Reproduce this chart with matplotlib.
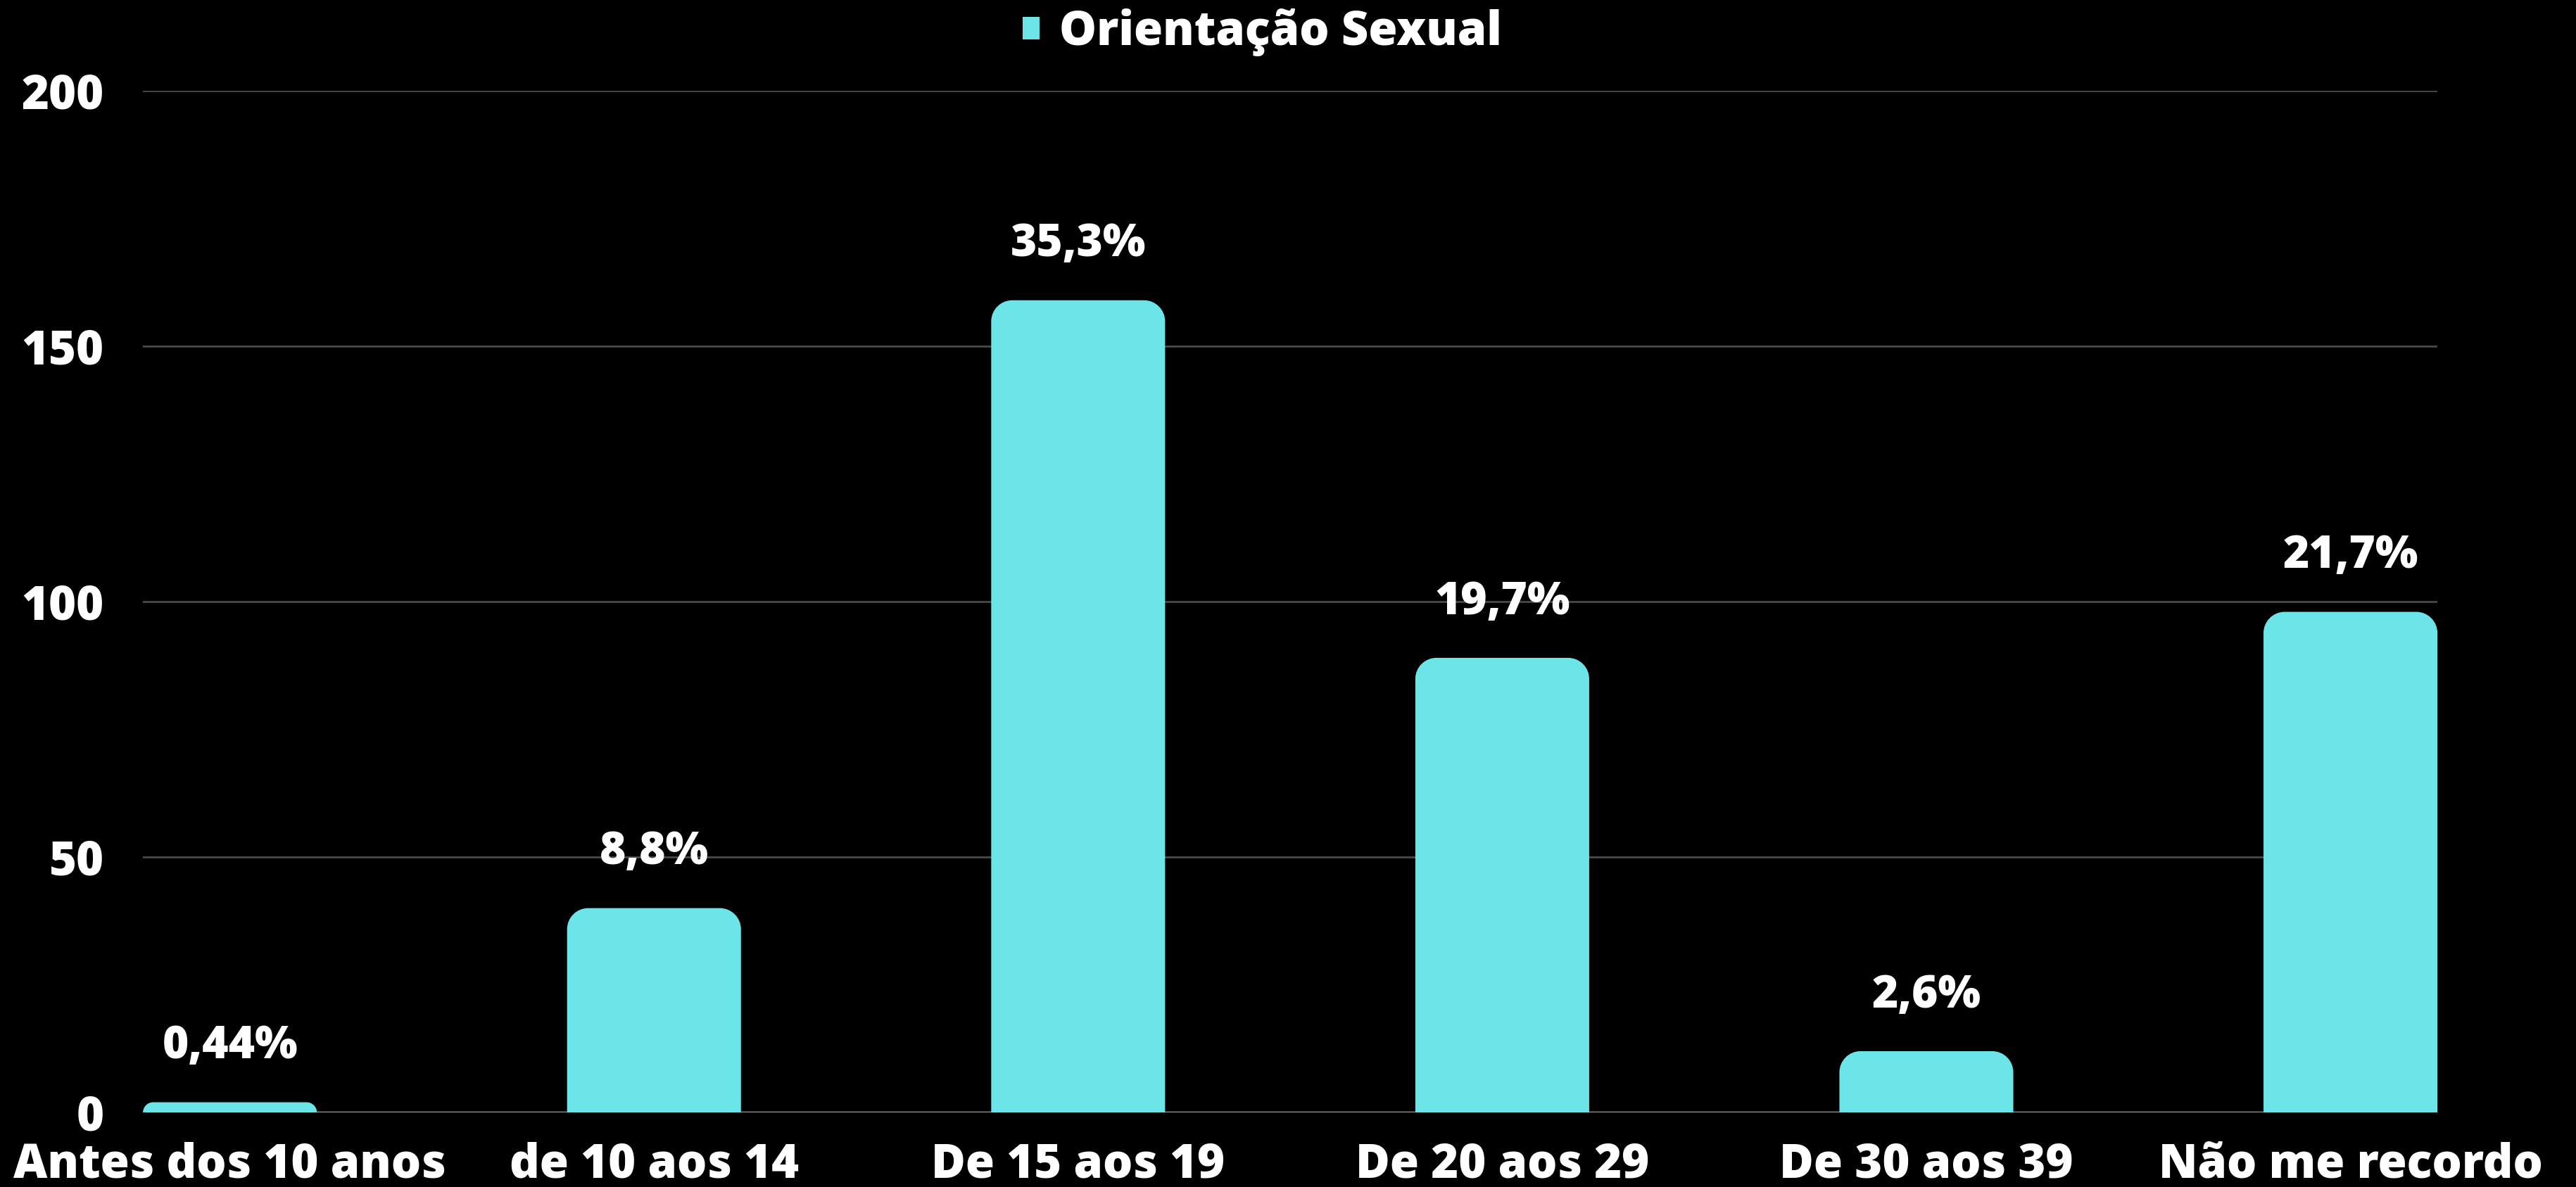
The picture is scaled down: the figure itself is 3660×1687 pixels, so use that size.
import matplotlib.pyplot as plt
from matplotlib.path import Path
from matplotlib.patches import PathPatch, Patch

# data
categories = ['Antes dos 10 anos', 'de 10 aos 14', 'De 15 aos 19',
              'De 20 aos 29', 'De 30 aos 39', 'Não me recordo']
counts     = [2, 40, 159, 89, 12, 98]
pct_labels = ['0,44%', '8,8%', '35,3%', '19,7%', '2,6%', '21,7%']
series     = 'Orientação Sexual'

bar_color  = '#6ce5e8'
wt = 'heavy'
plt.rcParams['font.family'] = ['Open Sans', 'DejaVu Sans']
plt.rcParams['font.weight'] = wt

W, H, DPI = 36.6, 16.87, 100
fig = plt.figure(figsize=(W, H), dpi=DPI, facecolor='black')
ax = fig.add_axes([0.0555, 0.0628, 0.8907, 0.8607], facecolor='black')

width = 0.41
x = range(len(categories))
bars = ax.bar(x, counts, width=width, color=bar_color, zorder=3)
ax.set_xlim(-width / 2, len(categories) - 1 + width / 2)
ax.set_ylim(0, 200)
ax.set_yticks([0, 50, 100, 150, 200])

# rounded top corners (radius in pixels)
fig.canvas.draw()
ax_w = ax.get_window_extent().width
ax_h = ax.get_window_extent().height
xr = ax.get_xlim()[1] - ax.get_xlim()[0]
yr = ax.get_ylim()[1] - ax.get_ylim()[0]
rad_px = 30
k = 0.5523
for b in bars:
    x0, y0 = b.get_x(), b.get_y()
    x1, y1 = x0 + b.get_width(), y0 + b.get_height()
    r = min(rad_px, b.get_height() * ax_h / yr)
    rx = r * xr / ax_w
    ry = r * yr / ax_h
    verts = [(x0, y0), (x0, y1 - ry),
             (x0, y1 - ry + k * ry), (x0 + rx - k * rx, y1), (x0 + rx, y1),
             (x1 - rx, y1),
             (x1 - rx + k * rx, y1), (x1, y1 - ry + k * ry), (x1, y1 - ry),
             (x1, y0), (x0, y0)]
    codes = [Path.MOVETO, Path.LINETO,
             Path.CURVE4, Path.CURVE4, Path.CURVE4,
             Path.LINETO,
             Path.CURVE4, Path.CURVE4, Path.CURVE4,
             Path.LINETO, Path.CLOSEPOLY]
    ax.add_patch(PathPatch(Path(verts, codes), facecolor=bar_color,
                           edgecolor='none', zorder=3))
    b.set_visible(False)

# value labels
for b, lab in zip(bars, pct_labels):
    ax.annotate(lab, (b.get_x() + b.get_width() / 2, b.get_height()),
                xytext=(0, 34), textcoords='offset points',
                ha='center', va='bottom', color='white',
                fontsize=46, fontweight=wt, zorder=4)

ax.grid(axis='y', color='#4a4a4a', linewidth=2, zorder=0)
ax.axhline(0, color='#9a9a9a', linewidth=2.5, zorder=2)
for s in ax.spines.values():
    s.set_visible(False)
ax.tick_params(axis='both', length=0, colors='white', labelsize=48)
ax.tick_params(axis='y', pad=40)
ax.tick_params(axis='x', pad=30)
ax.set_xticks(list(x))
ax.set_xticklabels(categories, fontweight=wt)
for t in ax.get_yticklabels():
    t.set_fontweight(wt)

fig.legend(handles=[Patch(facecolor=bar_color, label=series)],
           loc='center', bbox_to_anchor=(0.49, 0.973), frameon=False,
           labelcolor='white', handlelength=0.36,
           handleheight=0.36, handletextpad=0.42,
           prop={'weight': wt, 'size': 48})

fig.savefig('out.png', dpi=DPI, facecolor='black')
